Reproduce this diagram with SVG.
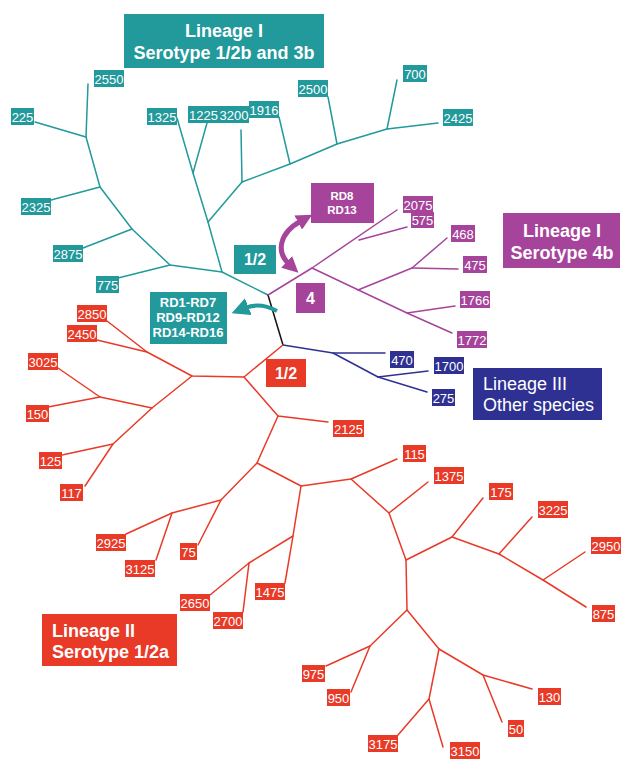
<svg xmlns="http://www.w3.org/2000/svg" width="621" height="759" viewBox="0 0 621 759">
<style>
.t{stroke:#22999b;}.m{stroke:#a6449b;}.n{stroke:#2e3192;}.r{stroke:#e83a27;}.k{stroke:#111;}
.ln{fill:none;stroke-width:1.5;stroke-linecap:round;stroke-linejoin:round;}
.bt{fill:#22999b;}.bm{fill:#a6449b;}.bn{fill:#2e3192;}.br{fill:#e83a27;}
.lab{font-family:"Liberation Sans",Arial,sans-serif;font-size:13px;fill:#fff;text-anchor:middle;}
.big{font-family:"Liberation Sans",Arial,sans-serif;font-size:18px;font-weight:bold;fill:#fff;}
.sm{font-family:"Liberation Sans",Arial,sans-serif;font-size:13px;font-weight:bold;fill:#fff;text-anchor:middle;}
</style>
<defs>
<marker id="ahm" viewBox="0 0 10 10" refX="2" refY="5" markerWidth="3.2" markerHeight="3.2" orient="auto-start-reverse"><path d="M0,0 L10,5 L0,10 z" fill="#a6449b"/></marker>
<marker id="aht" viewBox="0 0 10 10" refX="2" refY="5" markerWidth="4.5" markerHeight="4.5" orient="auto"><path d="M0,0 L10,5 L0,10 z" fill="#22999b"/></marker>
</defs>
<rect width="621" height="759" fill="#fff"/>
<g id="connectors">
<g class="ln t">
<polyline points="88,84 86,137 100,187 132,229 170,265 222,272 268,295"/>
<line x1="35" y1="122" x2="86" y2="137"/>
<line x1="51" y1="200" x2="100" y2="187"/>
<line x1="83" y1="248" x2="132" y2="229"/>
<line x1="118" y1="278" x2="170" y2="265"/>
<polyline points="177,118 193,173 208,222 222,272"/>
<line x1="207" y1="123" x2="193" y2="173"/>
<line x1="208" y1="222" x2="242" y2="182"/>
<line x1="241" y1="130" x2="242" y2="182"/>
<polyline points="242,182 290,164 337,144 387,129 438,123"/>
<line x1="279" y1="117" x2="290" y2="164"/>
<line x1="328" y1="97" x2="337" y2="144"/>
<line x1="397" y1="80" x2="387" y2="129"/>
</g>
<line class="ln k" x1="268" y1="295" x2="283" y2="345"/>
<g class="ln m">
<polyline points="268,295 312,268 397,210"/>
<line x1="359" y1="240" x2="407" y2="227"/>
<polyline points="312,268 407,313 452,333"/>
<line x1="407" y1="313" x2="455" y2="306"/>
<line x1="358" y1="290" x2="412" y2="268"/>
<line x1="412" y1="268" x2="447" y2="238"/>
<line x1="412" y1="268" x2="458" y2="269"/>
</g>
<g class="ln n">
<polyline points="283,345 333,353 385,353"/>
<line x1="333" y1="353" x2="378" y2="377"/>
<line x1="378" y1="377" x2="428" y2="371"/>
<line x1="378" y1="377" x2="427" y2="392"/>
</g>
<g class="ln r">
<polyline points="283,345 244,377 192,376 147,352 107,321"/>
<line x1="147" y1="352" x2="97" y2="340"/>
<polyline points="192,376 152,408 100,397 58,368"/>
<line x1="100" y1="397" x2="48" y2="407"/>
<polyline points="152,408 113,444 62,455"/>
<line x1="113" y1="444" x2="85" y2="486"/>
<polyline points="244,377 278,416 328,422"/>
<polyline points="278,416 257,463 221,500 172,513 126,534"/>
<line x1="172" y1="513" x2="156" y2="560"/>
<line x1="221" y1="500" x2="198" y2="545"/>
<polyline points="257,463 301,486 293,536 285,583"/>
<polyline points="293,536 249,563 210,595"/>
<line x1="249" y1="563" x2="243" y2="612"/>
<polyline points="301,486 351,479 397,459"/>
<polyline points="351,479 389,513 428,482"/>
<polyline points="389,513 406,560 452,537 483,498"/>
<polyline points="452,537 499,554 532,517"/>
<polyline points="499,554 543,580 585,552"/>
<line x1="543" y1="580" x2="586" y2="607"/>
<polyline points="406,560 407,610 439,649 483,675 532,689"/>
<line x1="483" y1="675" x2="502" y2="722"/>
<polyline points="439,649 429,699 443,747"/>
<line x1="429" y1="699" x2="398" y2="735"/>
<polyline points="407,610 370,646 326,666"/>
<line x1="370" y1="646" x2="351" y2="692"/>
</g>
<path d="M301,221 C279,233 276,252 289,264" fill="none" stroke="#a6449b" stroke-width="5" marker-start="url(#ahm)" marker-end="url(#ahm)"/>
<path d="M277,311 Q260,302 245,308" fill="none" stroke="#22999b" stroke-width="4" marker-end="url(#aht)"/>
</g>
<g id="title-lineage1"><rect class="bt" x="124" y="14" width="200" height="54"/><text class="big" x="224" y="37" text-anchor="middle">Lineage I</text><text class="big" x="224" y="59" text-anchor="middle">Serotype 1/2b and 3b</text></g>
<g id="title-lineage1-4b"><rect class="bm" x="503" y="213" width="117" height="55"/><text class="big" x="562" y="237" text-anchor="middle">Lineage I</text><text class="big" x="562" y="259" text-anchor="middle">Serotype 4b</text></g>
<g id="title-lineage3"><rect class="bn" x="473" y="368" width="129" height="52"/><text class="big" x="483" y="390" style="font-weight:normal">Lineage III</text><text class="big" x="483" y="411" style="font-weight:normal">Other species</text></g>
<g id="title-lineage2"><rect class="br" x="42" y="614" width="135" height="52"/><text class="big" x="52" y="637">Lineage II</text><text class="big" x="52" y="658">Serotype 1/2a</text></g>
<g id="rd8"><rect class="bm" x="311" y="183" width="63" height="40"/><text class="sm" x="342" y="200" style="font-size:11.5px">RD8</text><text class="sm" x="342" y="214" style="font-size:11.5px">RD13</text></g>
<g id="rd1"><rect class="bt" x="150" y="292" width="77" height="52"/><text class="sm" x="188" y="307">RD1-RD7</text><text class="sm" x="188" y="322">RD9-RD12</text><text class="sm" x="188" y="337">RD14-RD16</text></g>
<g id="sero-12-teal"><rect class="bt" x="234" y="245" width="42" height="29"/><text class="sm" x="255" y="265" style="font-size:16px">1/2</text></g>
<g id="sero-4"><rect class="bm" x="296" y="283" width="29" height="30"/><text class="sm" x="310.5" y="304" style="font-size:16px">4</text></g>
<g id="sero-12-red"><rect class="br" x="266" y="359" width="40" height="28"/><text class="sm" x="286" y="379" style="font-size:16px">1/2</text></g>
<g id="n2550"><rect class="bt" x="94" y="70" width="30" height="17"/><text class="lab" x="109" y="83.5">2550</text></g>
<g id="n225"><rect class="bt" x="11" y="108" width="23" height="17"/><text class="lab" x="22.5" y="121.5">225</text></g>
<g id="n1325"><rect class="bt" x="147" y="108" width="30" height="17"/><text class="lab" x="162" y="121.5">1325</text></g>
<g id="n1225"><rect class="bt" x="188" y="106" width="31" height="17"/><text class="lab" x="203.5" y="119.5">1225</text></g>
<g id="n3200"><rect class="bt" x="219" y="106" width="30" height="17"/><text class="lab" x="234" y="119.5">3200</text></g>
<g id="n1916"><rect class="bt" x="249" y="101" width="30" height="17"/><text class="lab" x="264" y="114.5">1916</text></g>
<g id="n2500"><rect class="bt" x="298" y="80" width="30" height="17"/><text class="lab" x="313" y="93.5">2500</text></g>
<g id="n700"><rect class="bt" x="403" y="65" width="24" height="17"/><text class="lab" x="415" y="78.5">700</text></g>
<g id="n2425"><rect class="bt" x="443" y="109" width="30" height="17"/><text class="lab" x="458" y="122.5">2425</text></g>
<g id="n2325"><rect class="bt" x="21" y="198" width="30" height="17"/><text class="lab" x="36" y="211.5">2325</text></g>
<g id="n2875"><rect class="bt" x="53" y="245" width="30" height="17"/><text class="lab" x="68" y="258.5">2875</text></g>
<g id="n775"><rect class="bt" x="96" y="276" width="23" height="17"/><text class="lab" x="107.5" y="289.5">775</text></g>
<g id="n2075"><rect class="bm" x="403" y="196" width="30" height="17"/><text class="lab" x="418" y="209.5">2075</text></g>
<g id="n575"><rect class="bm" x="411" y="212" width="23" height="16"/><text class="lab" x="422.5" y="225">575</text></g>
<g id="n468"><rect class="bm" x="451" y="225" width="24" height="17"/><text class="lab" x="463" y="238.5">468</text></g>
<g id="n475"><rect class="bm" x="463" y="256" width="24" height="17"/><text class="lab" x="475" y="269.5">475</text></g>
<g id="n1766"><rect class="bm" x="460" y="291" width="30" height="17"/><text class="lab" x="475" y="304.5">1766</text></g>
<g id="n1772"><rect class="bm" x="457" y="331" width="30" height="17"/><text class="lab" x="472" y="344.5">1772</text></g>
<g id="n470"><rect class="bn" x="390" y="351" width="24" height="17"/><text class="lab" x="402" y="364.5">470</text></g>
<g id="n1700"><rect class="bn" x="434" y="357" width="30" height="17"/><text class="lab" x="449" y="370.5">1700</text></g>
<g id="n275"><rect class="bn" x="432" y="389" width="23" height="17"/><text class="lab" x="443.5" y="402.5">275</text></g>
<g id="n2850"><rect class="br" x="77" y="305" width="30" height="17"/><text class="lab" x="92" y="318.5">2850</text></g>
<g id="n2450"><rect class="br" x="67" y="325" width="30" height="17"/><text class="lab" x="82" y="338.5">2450</text></g>
<g id="n3025"><rect class="br" x="28" y="353" width="30" height="17"/><text class="lab" x="43" y="366.5">3025</text></g>
<g id="n150"><rect class="br" x="26" y="405" width="23" height="17"/><text class="lab" x="37.5" y="418.5">150</text></g>
<g id="n125"><rect class="br" x="39" y="452" width="23" height="17"/><text class="lab" x="50.5" y="465.5">125</text></g>
<g id="n117"><rect class="br" x="60" y="484" width="23" height="17"/><text class="lab" x="71.5" y="497.5">117</text></g>
<g id="n2125"><rect class="br" x="333" y="420" width="31" height="17"/><text class="lab" x="348.5" y="433.5">2125</text></g>
<g id="n115"><rect class="br" x="403" y="445" width="23" height="17"/><text class="lab" x="414.5" y="458.5">115</text></g>
<g id="n1375"><rect class="br" x="434" y="467" width="30" height="17"/><text class="lab" x="449" y="480.5">1375</text></g>
<g id="n175"><rect class="br" x="489" y="483" width="24" height="17"/><text class="lab" x="501" y="496.5">175</text></g>
<g id="n3225"><rect class="br" x="538" y="501" width="30" height="17"/><text class="lab" x="553" y="514.5">3225</text></g>
<g id="n2950"><rect class="br" x="591" y="537" width="30" height="17"/><text class="lab" x="606" y="550.5">2950</text></g>
<g id="n875"><rect class="br" x="592" y="605" width="23" height="17"/><text class="lab" x="603.5" y="618.5">875</text></g>
<g id="n2925"><rect class="br" x="96" y="534" width="30" height="17"/><text class="lab" x="111" y="547.5">2925</text></g>
<g id="n75"><rect class="br" x="180" y="543" width="17" height="17"/><text class="lab" x="188.5" y="556.5">75</text></g>
<g id="n3125"><rect class="br" x="125" y="560" width="30" height="17"/><text class="lab" x="140" y="573.5">3125</text></g>
<g id="n2650"><rect class="br" x="180" y="594" width="30" height="17"/><text class="lab" x="195" y="607.5">2650</text></g>
<g id="n2700"><rect class="br" x="213" y="612" width="30" height="17"/><text class="lab" x="228" y="625.5">2700</text></g>
<g id="n1475"><rect class="br" x="255" y="583" width="30" height="17"/><text class="lab" x="270" y="596.5">1475</text></g>
<g id="n975"><rect class="br" x="302" y="665" width="23" height="17"/><text class="lab" x="313.5" y="678.5">975</text></g>
<g id="n950"><rect class="br" x="327" y="689" width="23" height="17"/><text class="lab" x="338.5" y="702.5">950</text></g>
<g id="n3175"><rect class="br" x="368" y="735" width="30" height="17"/><text class="lab" x="383" y="748.5">3175</text></g>
<g id="n3150"><rect class="br" x="450" y="742" width="30" height="17"/><text class="lab" x="465" y="755.5">3150</text></g>
<g id="n130"><rect class="br" x="538" y="688" width="23" height="17"/><text class="lab" x="549.5" y="701.5">130</text></g>
<g id="n50"><rect class="br" x="508" y="720" width="16" height="17"/><text class="lab" x="516" y="733.5">50</text></g>
</svg>
